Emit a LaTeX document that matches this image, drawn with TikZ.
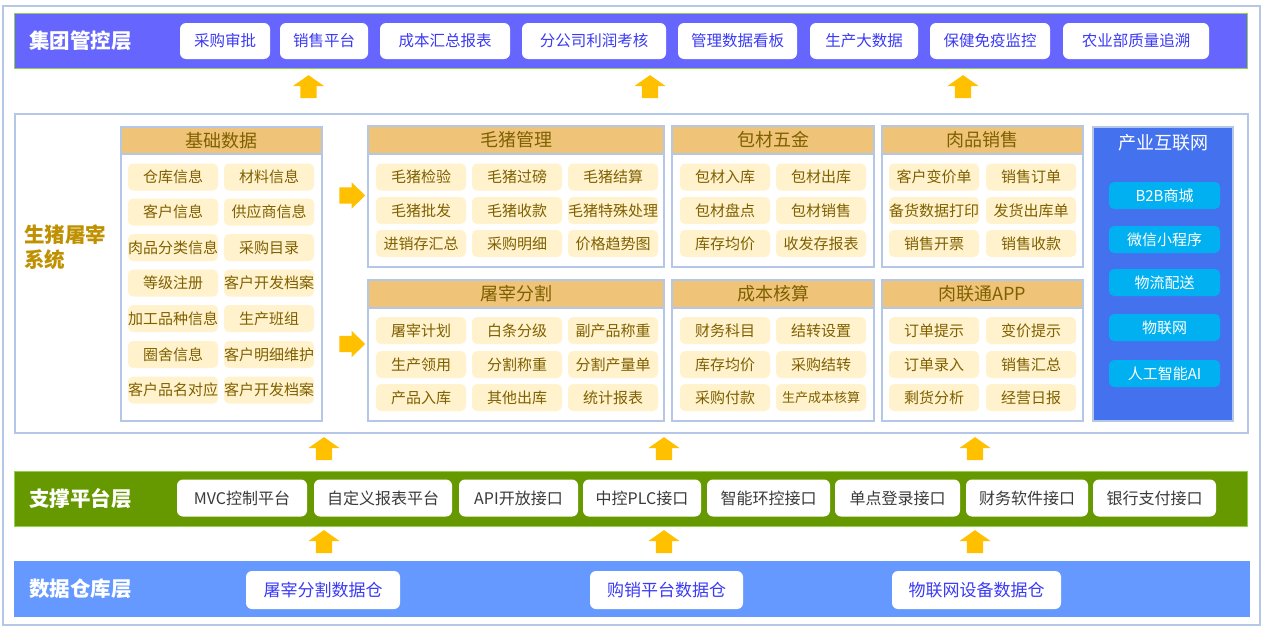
\documentclass[tikz,border=0pt]{standalone}
\usepackage{fontspec}
\setmainfont{Noto Sans CJK SC}
\usetikzlibrary{shapes.arrows}
\definecolor{frameb}{HTML}{B4C7E7}
\definecolor{topband}{HTML}{6666FF}
\definecolor{bandedge}{HTML}{92D050}
\definecolor{toptext}{HTML}{3B3BF5}
\definecolor{itemfill}{HTML}{FFF2CC}
\definecolor{itemtext}{HTML}{7F6000}
\definecolor{headfill}{HTML}{EFC479}
\definecolor{gold}{HTML}{BF9000}
\definecolor{iotfill}{HTML}{4472EE}
\definecolor{cyanbox}{HTML}{00B0F0}
\definecolor{greenband}{HTML}{669900}
\definecolor{supptext}{HTML}{3A3A3A}
\definecolor{databand}{HTML}{6699FF}
\definecolor{arrowc}{HTML}{FFC000}
\tikzset{
  fs/.style={font=\fontsize{#1}{#1}\selectfont},
  layertitle/.style={text=white, font=\fontsize{20.5}{21}\selectfont\bfseries, inner sep=0},
  topbox/.style={fill=white, rounded corners=6pt, text=toptext, fs=15.5, minimum height=36, inner sep=0},
  suppbox/.style={fill=white, rounded corners=6pt, text=supptext, fs=16, minimum height=37, inner sep=0},
  databox/.style={fill=white, rounded corners=6pt, text=toptext, fs=17, minimum height=38, inner sep=0},
  panel/.style={draw=frameb, line width=1.8pt, fill=white, inner sep=0},
  header/.style={draw=frameb, line width=1.8pt, fill=headfill, text=itemtext, fs=18, inner sep=0, anchor=north},
  itm/.style={fill=itemfill, rounded corners=5pt, text=itemtext, fs=15, minimum width=90, minimum height=27, inner sep=0},
  cyanitm/.style={fill=cyanbox, rounded corners=5pt, text=white, fs=15, minimum width=111, minimum height=27, inner sep=0},
  uparr/.style={single arrow, fill=arrowc, draw=none, inner xsep=0, inner ysep=8pt, single arrow head extend=7.5pt, single arrow tip angle=110, minimum height=23, rotate=90},
  rightarr/.style={single arrow, fill=arrowc, draw=none, inner xsep=0, inner ysep=8pt, single arrow head extend=5pt, single arrow tip angle=88, minimum height=26},
}
\begin{document}
\begin{tikzpicture}[x=1pt,y=-1pt]
\useasboundingbox (0,0) rectangle (1265,637);
% outer frame
\draw[frameb, line width=2pt] (3,6) rectangle (1260,625);

% ===== top layer =====
\node[draw=bandedge, line width=0.8pt, fill=topband, minimum width=1233, minimum height=55, inner sep=0, anchor=north west] (topL) at (14,13) {};
\node[layertitle] (topT) at (80.5,41) {集团管控层};
\node[topbox, minimum width=90] (t1) at (225,41) {采购审批};
\node[topbox, minimum width=88] (t2) at (324,41) {销售平台};
\node[topbox, minimum width=130] (t3) at (445,41) {成本汇总报表};
\node[topbox, minimum width=144] (t4) at (594,41) {分公司利润考核};
\node[topbox, minimum width=119] (t5) at (737.5,41) {管理数据看板};
\node[topbox, minimum width=108] (t6) at (864,41) {生产大数据};
\node[topbox, minimum width=120] (t7) at (990,41) {保健免疫监控};
\node[topbox, minimum width=146] (t8) at (1136,41) {农业部质量追溯};

\node[uparr] (a1) at (308.5,89.5) {};
\node[uparr] (a2) at (650,89.5) {};
\node[uparr] (a3) at (963,89.5) {};

% ===== middle system =====
\node[draw=frameb, line width=1.8pt, minimum width=1233, minimum height=319, inner sep=0, anchor=north west] (midF) at (14,113) {};
\node[text=gold, font=\fontsize{20.5}{25}\selectfont\bfseries, align=left, inner sep=0, anchor=west] (midT) at (24,247.5) {生猪屠宰\\系统};

% 基础数据
\node[panel, minimum width=201, minimum height=294] (jc) at (221.5,274) {};
\node[header, minimum width=201, minimum height=27] (jch) at (jc.north) {基础数据};
\node[itm] (jc11) at (173,177) {仓库信息};
\node[itm] (jc12) at (269,177) {材料信息};
\node[itm] (jc21) at (173,212) {客户信息};
\node[itm] (jc22) at (269,212) {供应商信息};
\node[itm] (jc31) at (173,247.5) {肉品分类信息};
\node[itm] (jc32) at (269,247.5) {采购目录};
\node[itm] (jc41) at (173,283) {等级注册};
\node[itm] (jc42) at (269,283) {客户开发档案};
\node[itm] (jc51) at (173,318.5) {加工品种信息};
\node[itm] (jc52) at (269,318.5) {生产班组};
\node[itm] (jc61) at (173,354.5) {圈舍信息};
\node[itm] (jc62) at (269,354.5) {客户明细维护};
\node[itm] (jc71) at (173,390) {客户品名对应};
\node[itm] (jc72) at (269,390) {客户开发档案};

\node[rightarr] (r1) at (348,195.5) {};
\node[rightarr] (r2) at (348,344) {};

% 毛猪管理
\node[panel, minimum width=296, minimum height=141] (mz) at (516,196.5) {};
\node[header, minimum width=296, minimum height=28] (mzh) at (mz.north) {毛猪管理};
\node[itm] (mz11) at (421,177) {毛猪检验};
\node[itm] (mz12) at (517,177) {毛猪过磅};
\node[itm] (mz13) at (613,177) {毛猪结算};
\node[itm] (mz21) at (421,210.5) {毛猪批发};
\node[itm] (mz22) at (517,210.5) {毛猪收款};
\node[itm] (mz23) at (613,210.5) {毛猪特殊处理};
\node[itm] (mz31) at (421,243.5) {进销存汇总};
\node[itm] (mz32) at (517,243.5) {采购明细};
\node[itm] (mz33) at (613,243.5) {价格趋势图};

% 屠宰分割
\node[panel, minimum width=296, minimum height=141] (tz) at (516,350.5) {};
\node[header, minimum width=296, minimum height=28] (tzh) at (tz.north) {屠宰分割};
\node[itm] (tz11) at (421,330.5) {屠宰计划};
\node[itm] (tz12) at (517,330.5) {白条分级};
\node[itm] (tz13) at (613,330.5) {副产品称重};
\node[itm] (tz21) at (421,364.5) {生产领用};
\node[itm] (tz22) at (517,364.5) {分割称重};
\node[itm] (tz23) at (613,364.5) {分割产量单};
\node[itm] (tz31) at (421,397.5) {产品入库};
\node[itm] (tz32) at (517,397.5) {其他出库};
\node[itm] (tz33) at (613,397.5) {统计报表};

% 包材五金
\node[panel, minimum width=202, minimum height=141] (bc) at (773,196.5) {};
\node[header, minimum width=202, minimum height=28] (bch) at (bc.north) {包材五金};
\node[itm] (bc11) at (725,177) {包材入库};
\node[itm] (bc12) at (821,177) {包材出库};
\node[itm] (bc21) at (725,210.5) {包材盘点};
\node[itm] (bc22) at (821,210.5) {包材销售};
\node[itm] (bc31) at (725,243.5) {库存均价};
\node[itm] (bc32) at (821,243.5) {收发存报表};

% 成本核算
\node[panel, minimum width=202, minimum height=141] (cb) at (773,350.5) {};
\node[header, minimum width=202, minimum height=28] (cbh) at (cb.north) {成本核算};
\node[itm] (cb11) at (725,330.5) {财务科目};
\node[itm] (cb12) at (821,330.5) {结转设置};
\node[itm] (cb21) at (725,364.5) {库存均价};
\node[itm] (cb22) at (821,364.5) {采购结转};
\node[itm] (cb31) at (725,397.5) {采购付款};
\node[itm, fs=13] (cb32) at (821,397.5) {生产成本核算};

% 肉品销售
\node[panel, minimum width=201, minimum height=141] (rp) at (982.5,196.5) {};
\node[header, minimum width=201, minimum height=28] (rph) at (rp.north) {肉品销售};
\node[itm] (rp11) at (934,177) {客户变价单};
\node[itm] (rp12) at (1031,177) {销售订单};
\node[itm] (rp21) at (934,210.5) {备货数据打印};
\node[itm] (rp22) at (1031,210.5) {发货出库单};
\node[itm] (rp31) at (934,243.5) {销售开票};
\node[itm] (rp32) at (1031,243.5) {销售收款};

% 肉联通APP
\node[panel, minimum width=201, minimum height=141] (rl) at (982.5,350.5) {};
\node[header, minimum width=201, minimum height=28] (rlh) at (rl.north) {肉联通APP};
\node[itm] (rl11) at (934,330.5) {订单提示};
\node[itm] (rl12) at (1031,330.5) {变价提示};
\node[itm] (rl21) at (934,364.5) {订单录入};
\node[itm] (rl22) at (1031,364.5) {销售汇总};
\node[itm] (rl31) at (934,397.5) {剩货分析};
\node[itm] (rl32) at (1031,397.5) {经营日报};

% 产业互联网
\node[draw=frameb, line width=1.8pt, fill=iotfill, minimum width=140, minimum height=294, inner sep=0] (iot) at (1163,274) {};
\node[text=white, fs=18, inner sep=0] (iotT) at (1163,143) {产业互联网};
\node[cyanitm] (iot1) at (1164.5,195.5) {B2B商城};
\node[cyanitm] (iot2) at (1164.5,239.5) {微信小程序};
\node[cyanitm] (iot3) at (1164.5,282.5) {物流配送};
\node[cyanitm] (iot4) at (1164.5,327.5) {物联网};
\node[cyanitm] (iot5) at (1164.5,373.5) {人工智能AI};

\node[uparr] (b1) at (324,451.5) {};
\node[uparr] (b2) at (664,451.5) {};
\node[uparr] (b3) at (975,451.5) {};

% ===== support layer =====
\node[draw=bandedge, line width=0.8pt, fill=greenband, minimum width=1233, minimum height=55, inner sep=0, anchor=north west] (supL) at (14,471) {};
\node[layertitle] (supT) at (80.5,498.5) {支撑平台层};
\node[suppbox, minimum width=130] (s1) at (242,498) {MVC控制平台};
\node[suppbox, minimum width=138] (s2) at (383,498) {自定义报表平台};
\node[suppbox, minimum width=119] (s3) at (518.5,498) {API开放接口};
\node[suppbox, minimum width=118] (s4) at (642,498) {中控PLC接口};
\node[suppbox, minimum width=123] (s5) at (768.5,498) {智能环控接口};
\node[suppbox, minimum width=125] (s6) at (897.5,498) {单点登录接口};
\node[suppbox, minimum width=122] (s7) at (1027,498) {财务软件接口};
\node[suppbox, minimum width=123] (s8) at (1154.5,498) {银行支付接口};

\node[uparr] (c1) at (324,544.5) {};
\node[uparr] (c2) at (664,544.5) {};
\node[uparr] (c3) at (975,544.5) {};

% ===== data layer =====
\node[fill=databand, minimum width=1236, minimum height=56, inner sep=0, anchor=north west] (datL) at (14,561) {};
\node[layertitle] (datT) at (80.5,589) {数据仓库层};
\node[databox, minimum width=154] (d1) at (323,590) {屠宰分割数据仓};
\node[databox, minimum width=153] (d2) at (666.5,590) {购销平台数据仓};
\node[databox, minimum width=169] (d3) at (976.5,590) {物联网设备数据仓};
\end{tikzpicture}
\end{document}
